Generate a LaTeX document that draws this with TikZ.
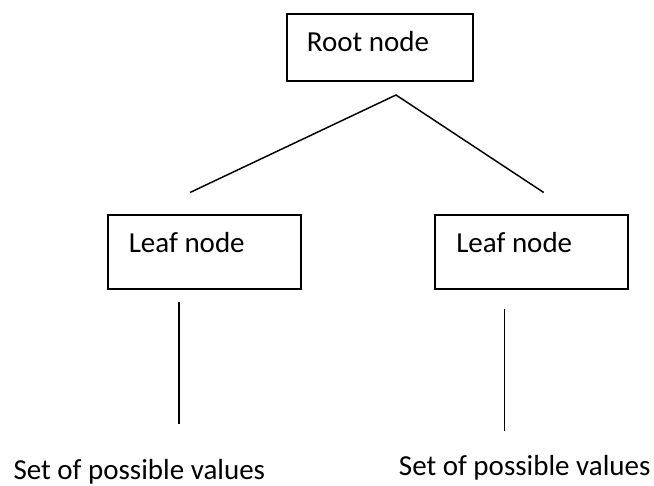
\documentclass[tikz,border=0pt]{standalone}
\usepackage{fontspec}
\setmainfont{Carlito}
\begin{document}
\begin{tikzpicture}[x=0.75pt,y=-0.75pt,
  box/.style={draw=black,line width=1.4pt,rectangle,inner sep=0pt,anchor=north west},
  lbl/.style={anchor=base west,inner sep=0pt,font=\fontsize{21.75}{26}\selectfont},
  conn/.style={draw=black,line width=1.1pt}]
\useasboundingbox (0,0) rectangle (654,486);
% boxes
\node[box,minimum width=139.7pt,minimum height=50pt] (root) at (285.7,13.3) {};
\node[box,minimum width=145pt,minimum height=55.5pt] (leafL) at (106.7,214) {};
\node[box,minimum width=145pt,minimum height=55.5pt] (leafR) at (433.7,214) {};
% texts
\node[lbl] (rootT) at (306.7,51.7) {Root node};
\node[lbl] (leafLT) at (128.5,252.7) {Leaf node};
\node[lbl] (leafRT) at (456,252.7) {Leaf node};
\node[lbl] (setL) at (13.3,479.3) {Set of possible values};
\node[lbl] (setR) at (398.7,475.3) {Set of possible values};
% connector ends
\coordinate (apex) at (396,95);
\coordinate (endL) at (190,192.5);
\coordinate (endR) at (543.7,192.5);
\coordinate (vLtop) at (179,302.3);
\coordinate (vLbot) at (179,423.7);
\coordinate (vRtop) at (504.7,309);
\coordinate (vRbot) at (504.7,430.7);
\draw[conn] (endL) -- (apex) -- (endR);
\draw[conn] (vLtop) -- (vLbot);
\draw[conn] (vRtop) -- (vRbot);
\end{tikzpicture}
\end{document}
